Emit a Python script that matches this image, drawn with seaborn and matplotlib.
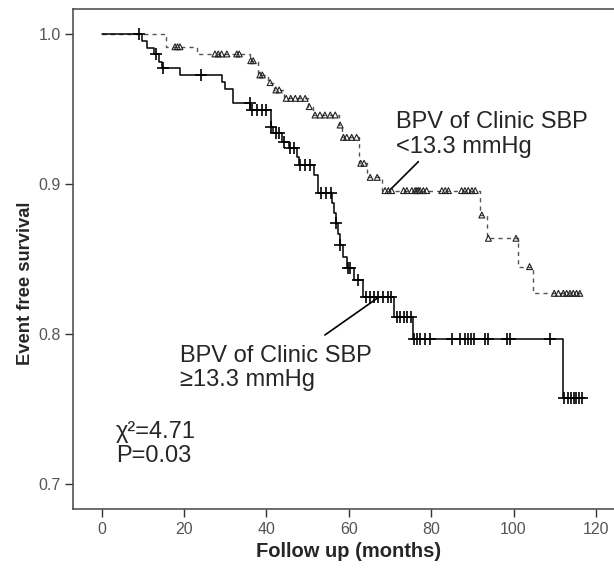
import matplotlib
matplotlib.use("Agg")
import matplotlib.pyplot as plt
import seaborn as sns
import pandas as pd

# ---------------- data ----------------
# Group with BPV of Clinic SBP >= 13.3 mmHg (solid line, "+" censor marks)
hi_step_t = [0, 9.7, 10.9, 12.7, 14.0, 14.6, 19.0, 29.1, 29.9, 32.0, 36.0, 41.0, 41.7,
             43.7, 45.4, 47.4, 47.8, 51.6, 52.6, 56.0, 56.5, 56.9, 57.5, 57.9, 58.5,
             59.5, 61.2, 63.5, 70.9, 75.5, 111.9, 116.6]
hi_step_s = [1.0, 0.9955, 0.9909, 0.9865, 0.9816, 0.9771, 0.9727, 0.9680, 0.9630, 0.9538,
             0.9493, 0.9382, 0.9338, 0.9282, 0.9238, 0.9182, 0.9127, 0.9060, 0.8942,
             0.8871, 0.8804, 0.8738, 0.8665, 0.8593, 0.8515, 0.8438, 0.8360, 0.8249,
             0.8115, 0.7965, 0.7571, 0.7571]
hi_cens_t = [9.1, 13.2, 14.8, 24.0, 35.9, 36.4, 37.6, 38.9, 39.9, 41.2, 42.3, 43.0, 44.3,
             45.8, 46.6, 48.2, 49.4, 50.6, 53.2, 54.4, 55.6, 56.9, 57.9, 59.9, 60.4, 62.2,
             64.2, 65.2, 66.2, 67.0, 68.3, 69.5, 70.3, 71.6, 72.4, 73.3, 74.2, 75.0,
             75.8, 76.5, 77.3, 78.5, 79.8, 85.0, 87.0, 88.2, 89.0, 89.6, 90.3, 93.1,
             93.9, 98.4, 99.2, 108.9, 112.2, 113.2, 114.0, 114.6, 115.2, 115.8, 116.6]

# Group with BPV of Clinic SBP < 13.3 mmHg (dashed line, triangle censor marks)
lo_step_t = [0, 15.6, 23.1, 35.9, 37.9, 40.5, 41.9, 44.3, 50.0, 51.4, 57.7, 58.3, 62.6,
             64.4, 68.0, 91.9, 93.5, 101.2, 104.8, 116.6]
lo_step_s = [1.0, 0.9915, 0.9867, 0.9822, 0.9727, 0.9676, 0.9627, 0.9571, 0.9516, 0.9460,
             0.9393, 0.9311, 0.9138, 0.9044, 0.8956, 0.8793, 0.8638, 0.8449, 0.8271, 0.8271]
lo_cens_t = [17.8, 18.4, 19.0, 27.5, 28.3, 29.1, 30.4, 32.8, 33.4, 36.2, 36.8, 38.4, 39.0,
             40.9, 42.3, 43.1, 44.8, 45.9, 47.0, 48.2, 49.4, 50.4, 51.8, 53.0, 54.2, 55.5,
             56.7, 57.9, 58.7, 59.5, 60.7, 61.9, 62.9, 63.7, 65.2, 66.9, 68.8, 69.6, 70.4,
             73.3, 74.1, 75.3, 76.1, 76.5, 76.9, 77.3, 78.1, 78.9, 82.6, 83.4, 84.2, 87.4,
             88.2, 89.0, 89.9, 90.7, 92.3, 93.9, 100.6, 103.9, 109.9, 110.9, 112.1, 112.9,
             113.7, 114.5, 115.3, 116.1]

x_ticks = [0, 20, 40, 60, 80, 100, 120]
y_ticks = [0.7, 0.8, 0.9, 1.0]
y_tick_labels = ["0.7", "0.8", "0.9", "1.0"]


def level_at(times, levels, t):
    s = levels[0]
    for tt, ss in zip(times, levels):
        if tt <= t + 1e-9:
            s = ss
    return s


hi_cens_s = [level_at(hi_step_t, hi_step_s, t) for t in hi_cens_t]
lo_cens_s = [level_at(lo_step_t, lo_step_s, t) for t in lo_cens_t]

hi_df = pd.DataFrame({"t": hi_step_t, "s": hi_step_s})
lo_df = pd.DataFrame({"t": lo_step_t, "s": lo_step_s})
hi_c = pd.DataFrame({"t": hi_cens_t, "s": hi_cens_s})
lo_c = pd.DataFrame({"t": lo_cens_t, "s": lo_cens_s})

# ---------------- figure ----------------
sns.set_style("white")
plt.rcParams["font.family"] = ["Liberation Sans", "DejaVu Sans"]

fig = plt.figure(figsize=(6.14, 5.73), dpi=100)
ax = fig.add_axes([73 / 614, 1 - 509 / 573, (614 - 73) / 614, (509 - 8.5) / 573])

sns.lineplot(data=lo_df, x="t", y="s", ax=ax, drawstyle="steps-post", sort=False,
             estimator=None, color="#555555", linewidth=1.0, linestyle=(0, (3, 3)))
sns.lineplot(data=hi_df, x="t", y="s", ax=ax, drawstyle="steps-post", sort=False,
             estimator=None, color="black", linewidth=1.1)

sns.scatterplot(data=lo_c, x="t", y="s", ax=ax, marker="^", s=18, color="none",
                edgecolor="#222222", linewidth=0.8, zorder=3)
sns.scatterplot(data=hi_c, x="t", y="s", ax=ax, marker="+", s=70, color="black",
                linewidth=1.2, zorder=3)

ax.set_xlim(-6.97, 124.4)
ax.set_ylim(0.6833, 1.017)
ax.set_xticks(x_ticks)
ax.set_yticks(y_ticks)
ax.set_yticklabels(y_tick_labels)
ax.tick_params(axis="both", direction="out", length=6, width=1.0, color="#333333",
               labelsize=11.5, labelcolor="#555555", pad=3)
ax.tick_params(left=True, bottom=True)

for side in ["left", "bottom", "top"]:
    ax.spines[side].set_color("#444444")
    ax.spines[side].set_linewidth(1.1)
ax.spines["right"].set_visible(False)

ax.set_xlabel("Follow up (months)", fontsize=14.5, fontweight="bold")
ax.set_ylabel("Event free survival", fontsize=13.2, fontweight="bold")
ax.xaxis.set_label_coords(0.51, -0.065)
ax.yaxis.set_label_coords(-0.072, 0.45)

# annotations
ax.text(71.5, 0.933, "BPV of Clinic SBP\n<13.3 mmHg", fontsize=17, ha="left",
        va="center", linespacing=1.15)
ax.plot([76.9, 70.0], [0.9149, 0.8960], color="black", linewidth=1.2)

ax.text(19.0, 0.7773, "BPV of Clinic SBP\n\u226513.3 mmHg", fontsize=17, ha="left",
        va="center", linespacing=1.15)
ax.plot([54.2, 67.0], [0.7993, 0.8240], color="black", linewidth=1.2)

ax.text(3.5, 0.7267, "\u03c7\u00b2=4.71\nP=0.03", fontsize=17, ha="left", va="center",
        linespacing=1.1)

fig.savefig("out.png", dpi=100)
